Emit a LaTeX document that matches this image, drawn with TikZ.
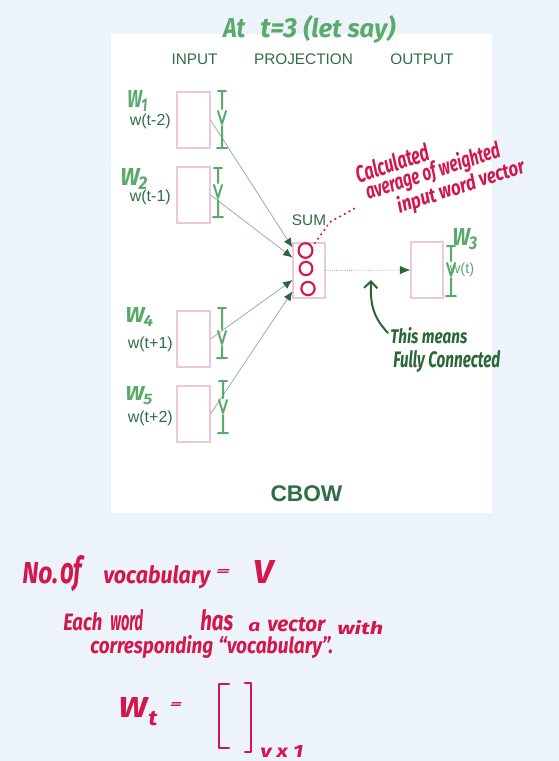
\documentclass[tikz,border=0pt]{standalone}
\usepackage{fontspec}
\usepackage{graphicx}
\setmainfont{Liberation Sans}
\newfontfamily\hand{Fira Sans}
\usetikzlibrary{arrows.meta,calc}
\newdimen\px \px=0.75pt
\newcommand\hw[3]{\resizebox{#1\px}{#2\px}{\hand\itshape\bfseries #3}}
\newcommand\wsub[1]{W\kern-0.04em\raisebox{-0.2em}{\scalebox{0.75}{#1}}}
\definecolor{bg}{HTML}{EDF3FA}
\definecolor{lblgreen}{HTML}{2F6E44}
\definecolor{hgreen}{HTML}{5AAA6C}
\definecolor{dgreen}{HTML}{2A6638}
\definecolor{hred}{HTML}{D3174B}
\definecolor{boxpink}{HTML}{EBC9D8}
\definecolor{arrline}{HTML}{9AB0A2}
\newcommand\ibeam[4]{%
  \draw[ib] (#1-4,#2) -- (#1+4,#2) (#1,#2) -- (#1,#3-9)
    (#1-4,#3-7) -- (#1,#3+6) -- (#1+4,#3-7) (#1,#3+8) -- (#1,#4)
    (#1-5,#4) -- (#1+5,#4);}
\begin{document}
\begin{tikzpicture}[x=0.75pt,y=-0.75pt,
  vbox/.style={draw=boxpink, line width=0.8pt, fill=white, minimum width=24.75pt, minimum height=42pt, inner sep=0pt},
  lbl/.style={text=lblgreen, font=\fontsize{11.5}{13}\selectfont, inner sep=0pt},
  wlbl/.style={text=lblgreen, font=\fontsize{12}{14}\selectfont, inner sep=0pt, anchor=east},
  hg/.style={text=hgreen, inner sep=0pt, anchor=base west},
  hr/.style={text=hred, inner sep=0pt, anchor=base west},
  hd/.style={text=dgreen, inner sep=0pt, anchor=base west},
  ib/.style={draw=hgreen, line width=1.5pt, line cap=round, line join=round},
  conn/.style={draw=arrline, line width=0.6pt, -{Latex[length=7pt,width=6pt,color=dgreen]}},
  fconn/.style={draw=arrline, line width=0.6pt, densely dotted, -{Latex[length=8pt,width=6.5pt,color=dgreen]}}
]
\fill[bg] (0,0) rectangle (559,761);
\useasboundingbox (0,0) rectangle (559,761);
\fill[white] (111,34) rectangle (492,513);

% title annotation
\node[hg] (at1) at (223,37) {\hw{22}{19}{At}};
\node[hg] (at2) at (260,37) {\hw{37}{19}{t=3}};
\node[hg] (at3) at (303,37) {\hw{92}{22}{(let say)}};

% column labels
\node[lbl] (linput) at (194.5,59) {INPUT};
\node[lbl] (lproj) at (303.5,59) {PROJECTION};
\node[lbl] (lout) at (422,59) {OUTPUT};

% boxes
\node[vbox] (in1) at (193.5,120) {};
\node[vbox] (in2) at (193.5,195) {};
\node[vbox] (in3) at (193.5,339) {};
\node[vbox] (in4) at (193.5,414) {};
\node[vbox, minimum width=24pt, minimum height=41.25pt] (proj) at (309,270.5) {};
\node[vbox, minimum width=24pt] (out) at (427,270) {};

\node[lbl] (sum) at (309,220) {SUM};

% word labels
\node[wlbl] (w1) at (171,121) {w(t-2)};
\node[wlbl] (w2) at (171,197) {w(t-1)};
\node[wlbl] (w4) at (173,344) {w(t+1)};
\node[wlbl] (w5) at (173,418) {w(t+2)};
\node[text=hgreen, font=\fontsize{11}{13}\selectfont, inner sep=0pt] (wt) at (462,270) {w(t)};

% connectors
\coordinate (p1) at ($(proj.north west)!0.09!(proj.south west)$);
\coordinate (p2) at ($(proj.north west)!0.27!(proj.south west)$);
\coordinate (p3) at ($(proj.north west)!0.67!(proj.south west)$);
\coordinate (p4) at ($(proj.north west)!0.87!(proj.south west)$);
\draw[conn] (in1.east) -- (p1);
\draw[conn] (in2.east) -- (p2);
\draw[conn] (in3.east) -- (p3);
\draw[conn] (in4.east) -- (p4);
\draw[fconn] (proj.east) -- (out.west);

% W handwritten labels
\node[hg] (hw1) at (127,107) {\hw{20}{17}{\wsub{1}}};
\node[hg] (hw2) at (120,185) {\hw{27}{17}{\wsub{2}}};
\node[hg] (hw4) at (125,322) {\hw{28}{15}{\wsub{4}}};
\node[hg] (hw5) at (125,400) {\hw{27}{14}{\wsub{5}}};
\node[hg] (hw3) at (452,245) {\hw{25}{17}{\wsub{3}}};

% I-beams
\ibeam{222}{91}{118}{148}
\ibeam{218}{168}{192}{217}
\ibeam{222}{308}{338}{358}
\ibeam{223}{381}{407}{433}
\ibeam{451}{246}{270}{296}

% red circles in projection
\draw[hred, line width=1.6pt] (305.5,250.5) ellipse [x radius=5.2pt, y radius=5.5pt];
\draw[hred, line width=1.6pt] (306,268.5) ellipse [x radius=4.8pt, y radius=5pt];
\draw[hred, line width=1.6pt] (308,288.5) ellipse [x radius=5pt, y radius=5pt];
\coordinate (dotA) at (315,243);
\coordinate (dotB) at (330,222);
\coordinate (dotC) at (357,207);
\draw[hred, line width=1.8pt, line cap=round, dash pattern=on 0pt off 4pt] (dotA) -- (dotB) -- (dotC);

% red rotated annotation
\node[text=hred, inner sep=0pt, rotate=18] (calc1) at (392,163) {\hw{76}{18}{Calculated}};
\node[text=hred, inner sep=0pt, rotate=18] (calc2) at (433,172) {\hw{140}{18}{average of weighted}};
\node[text=hred, inner sep=0pt, rotate=18] (calc3) at (461,187) {\hw{133}{17}{input word vector}};

% fully connected note
\node[hd] (fc1) at (390,343) {\hw{77}{16}{This means}};
\node[hd] (fc2) at (393,367) {\hw{107}{17}{Fully Connected}};
\coordinate (fcS) at (388,333);
\coordinate (fcT) at (371,280);
\draw[dgreen, line width=1.5pt, line cap=round, -{Straight Barb[length=5pt,width=10pt]}] (fcS) .. controls (374,318) and (370,306) .. (fcT);

% CBOW
\node[text=lblgreen, font=\fontsize{17}{19}\selectfont\bfseries, inner sep=0pt] (cbow) at (306.5,493.5) {CBOW};

% bottom notes
\node[hr] (b1) at (22,583) {\hw{36}{21}{No.}};
\node[hr] (b2) at (60,583) {\hw{22}{28}{of}};
\node[hr] (b3) at (103,583) {\hw{107}{18}{vocabulary}};
\node[text=hred, inner sep=0pt] (b4) at (223,572) {\hw{14}{6}{=}};
\node[hr] (b5) at (253,583) {\hw{20}{23}{V}};

\node[hr] (c1) at (63,630) {\hw{39}{18}{Each}};
\node[hr] (c2) at (110,630) {\hw{33}{21}{word}};
\node[hr] (c3) at (200,630) {\hw{33}{21}{has}};
\node[hr] (c4) at (248,631) {\hw{12}{9}{a}};
\node[hr] (c5) at (267,631) {\hw{58}{14}{vector}};
\node[hr] (c6) at (337,634) {\hw{46}{14}{with}};
\node[hr] (d1) at (90,653) {\hw{123}{18}{corresponding}};
\node[hr] (d2) at (218,653) {\hw{115}{17}{“vocabulary”.}};

\node[hr] (e1) at (118,717) {\hw{29}{20}{W}};
\node[hr] (e2) at (148,725) {\hw{9}{14}{t}};
\node[text=hred, inner sep=0pt] (e3) at (176,705) {\hw{12}{6}{=}};
\draw[hred, line width=1.6pt, line cap=round, line join=round] (229,684) -- (219,684) -- (219,748) -- (229,748);
\draw[hred, line width=1.6pt, line cap=round, line join=round] (245,683) -- (251,683) -- (251,752) -- (245,752);
\node[hr] (e4) at (260,757) {\hw{43}{12}{v x 1}};
\end{tikzpicture}
\end{document}
